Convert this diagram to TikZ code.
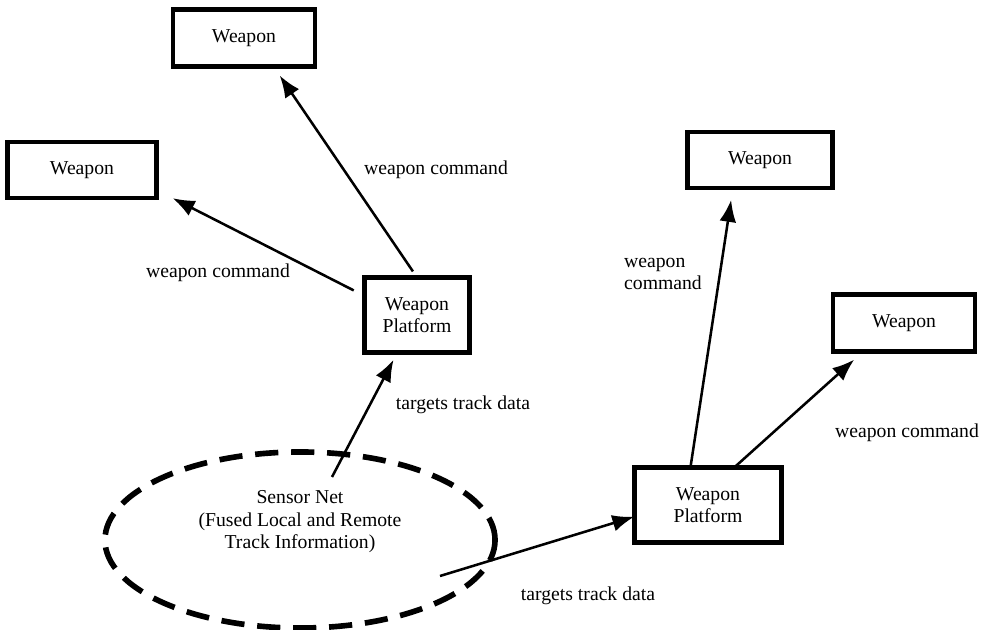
\documentclass[tikz,border=0pt]{standalone}
\usepackage{fontspec}
\setmainfont{Liberation Serif}
\usepackage{tikz}
\usetikzlibrary{shapes}
\usetikzlibrary{arrows.meta}
\usetikzlibrary{positioning}

\tikzset{
  every node/.style={font=\fontsize{14}{16}\selectfont},
  weaponbox/.style={draw, line width=3.5pt, inner sep=0pt, outer sep=0pt, align=center},
  sensornet/.style={draw, ellipse, line width=4pt, dash pattern=on 0.58cm off 0.32cm,
    minimum width=9.75cm, minimum height=4.4cm, inner sep=0pt, outer sep=0pt},
  cmdarrow/.style={line width=1.8pt, -{Latex[length=0.55cm,width=0.42cm]}},
  cmdlabel/.style={inner sep=0pt, align=left}
}

\begin{document}
\begin{tikzpicture}[x=0.025cm,y=-0.025cm]
  \useasboundingbox (0,0) rectangle (982,630);

  \node[weaponbox, minimum width=3.55cm, minimum height=1.43cm] (w1) at (244,38) {Weapon};
  \node[weaponbox, minimum width=3.73cm, minimum height=1.4cm] (w2) at (82,170) {Weapon};
  \node[weaponbox, minimum width=2.63cm, minimum height=1.88cm] (p1) at (417,315) {Weapon\\Platform};
  \node[weaponbox, minimum width=3.63cm, minimum height=1.4cm] (w3) at (760,160) {Weapon};
  \node[weaponbox, minimum width=3.55cm, minimum height=1.43cm] (w4) at (904,323) {Weapon};
  \node[weaponbox, minimum width=3.68cm, minimum height=1.88cm] (p2) at (708,505) {Weapon\\Platform};

  \node[sensornet] (sensor) at (300,540) {};
  \node[align=center, inner sep=0pt] (sensortext) at (300,522)
    {Sensor Net\\(Fused Local and Remote\\Track Information)};
  \coordinate (s1) at (332,477);
  \coordinate (s2) at (440,576);

  \draw[cmdarrow, shorten <=0.18cm, shorten >=0.27cm] (p1.north) -- (w1.-44);
  \draw[cmdarrow, shorten <=0.3cm, shorten >=0.45cm] (p1.160) -- (w2.-15);
  \draw[cmdarrow, shorten >=0.3cm] (p2.115) -- (w3.226);
  \draw[cmdarrow, shorten >=0.3cm] (p2.55) -- (w4.215);
  \draw[cmdarrow, shorten >=0.2cm] (s1) -- (p1);
  \draw[cmdarrow] (s2) -- (p2.189);

  \node[cmdlabel] (cmdtop) at (436,170) {weapon command};
  \node[cmdlabel] (cmdleft) at (218,273) {weapon command};
  \node[cmdlabel] (trackone) at (463,405) {targets track data};
  \node[cmdlabel] (cmdmid) at (663,274) {weapon\\command};
  \node[cmdlabel] (cmdright) at (907,433) {weapon command};
  \node[cmdlabel] (tracktwo) at (588,596) {targets track data};
\end{tikzpicture}
\end{document}
